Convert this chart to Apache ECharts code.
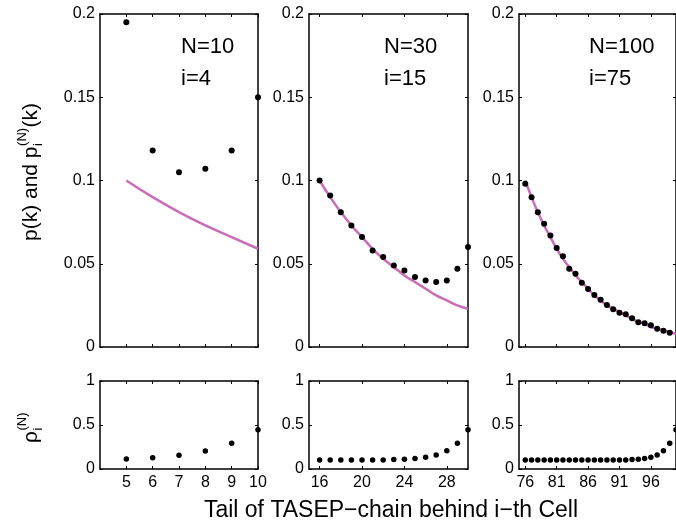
<!DOCTYPE html>
<html>
<head>
<meta charset="utf-8">
<script src="https://cdn.jsdelivr.net/npm/echarts@6/dist/echarts.min.js"></script>
<style>
html,body{margin:0;padding:0;background:#fff;}
#chart{width:676px;height:527px;}
</style>
</head>
<body>
<div id="chart"></div>
<script>
// ---------- data ----------
const panel1K = [5, 6, 7, 8, 9, 10];
const panel1Dots = [0.195, 0.118, 0.105, 0.107, 0.118, 0.150];
const panel1Curve = [0.100, 0.090, 0.081, 0.073, 0.066, 0.059];
const panel1Rho = [0.114, 0.129, 0.155, 0.205, 0.292, 0.447];

const panel2K = [16, 17, 18, 19, 20, 21, 22, 23, 24, 25, 26, 27, 28, 29, 30];
const panel2Dots = [0.100, 0.091, 0.081, 0.073, 0.066, 0.058, 0.054, 0.049, 0.046, 0.042, 0.040, 0.039, 0.040, 0.047, 0.060];
const panel2Curve = [0.100, 0.090, 0.081, 0.073, 0.066, 0.059, 0.053, 0.048, 0.043, 0.039, 0.035, 0.031, 0.028, 0.025, 0.023];
const panel2Rho = [0.103, 0.103, 0.103, 0.103, 0.103, 0.103, 0.103, 0.107, 0.111, 0.118, 0.134, 0.160, 0.206, 0.294, 0.447];

const panel3K = [76, 77, 78, 79, 80, 81, 82, 83, 84, 85, 86, 87, 88, 89, 90, 91, 92, 93, 94, 95, 96, 97, 98, 99, 100];
const panel3Dots = [0.098, 0.090, 0.081, 0.074, 0.067, 0.0595, 0.0545, 0.047, 0.044, 0.0386, 0.0348, 0.0312, 0.0284, 0.0252, 0.0226, 0.0206, 0.0196, 0.0172, 0.0148, 0.0142, 0.013, 0.011, 0.0098, 0.0086, null];
const panel3Curve = [0.100, 0.090, 0.081, 0.073, 0.066, 0.059, 0.053, 0.048, 0.043, 0.039, 0.035, 0.031, 0.028, 0.025, 0.023, 0.021, 0.019, 0.017, 0.015, 0.014, 0.012, 0.011, 0.010, 0.009, 0.008];
const panel3Rho = [0.103, 0.103, 0.103, 0.103, 0.103, 0.103, 0.103, 0.103, 0.103, 0.103, 0.103, 0.103, 0.103, 0.103, 0.103, 0.103, 0.103, 0.107, 0.111, 0.118, 0.134, 0.160, 0.206, 0.294, 0.447];

const panel1Ticks = [5, 6, 7, 8, 9, 10];
const panel2Ticks = [16, 20, 24, 28];
const panel3Ticks = [76, 81, 86, 91, 96];
const panel1Range = [4, 10];
const panel2Range = [15, 30];
const panel3Range = [75, 100];
const topYTicks = [0, 0.05, 0.1, 0.15, 0.2];
const bottomYTicks = [0, 0.5, 1];

const panelN = ['N=10', 'N=30', 'N=100'];
const panelI = ['i=4', 'i=15', 'i=75'];
const xTitle = 'Tail of TASEP\u2212chain behind i\u2212th Cell';

// ---------- layout ----------
const FONT = '"Liberation Sans", Arial, Helvetica, sans-serif';
const CURVE = '#c96db7';
const panelsX = [
  {left: 100, width: 158},
  {left: 309, width: 159},
  {left: 519, width: 159}
];
const topRow = {top: 14, height: 333};
const botRow = {top: 381, height: 88};

const panels = [
  {k: panel1K, dots: panel1Dots, curve: panel1Curve, rho: panel1Rho, ticks: panel1Ticks, range: panel1Range},
  {k: panel2K, dots: panel2Dots, curve: panel2Curve, rho: panel2Rho, ticks: panel2Ticks, range: panel2Range},
  {k: panel3K, dots: panel3Dots, curve: panel3Curve, rho: panel3Rho, ticks: panel3Ticks, range: panel3Range}
];

const grid = [], xAxis = [], yAxis = [], series = [];
const axisLine = {show: true, onZero: false, lineStyle: {color: '#000', width: 1.5}};
const labelStyle = {color: '#000', fontSize: 16, fontFamily: FONT};

function zip(xs, ys) { return xs.map((x, i) => [x, ys[i]]); }

function addGrid(g, p, isTop) {
  const gi = grid.length;
  grid.push(Object.assign({containLabel: false}, g));
  const xb = xAxis.length;
  xAxis.push({
    type: 'value', gridIndex: gi, position: 'bottom', min: p.range[0], max: p.range[1],
    axisLine: axisLine, splitLine: {show: false},
    axisTick: {show: true, inside: true, length: 3, customValues: p.ticks, lineStyle: {color: '#000', width: 1}},
    axisLabel: Object.assign({show: !isTop, margin: 6, customValues: p.ticks}, labelStyle)
  });
  xAxis.push({
    type: 'value', gridIndex: gi, position: 'top', min: p.range[0], max: p.range[1],
    axisLine: axisLine, splitLine: {show: false},
    axisTick: {show: true, inside: true, length: 3, customValues: p.ticks, lineStyle: {color: '#000', width: 1}},
    axisLabel: {show: false}
  });
  const yb = yAxis.length;
  const yt = isTop ? topYTicks : bottomYTicks;
  const ymax = yt[yt.length - 1];
  yAxis.push({
    type: 'value', gridIndex: gi, position: 'left', min: 0, max: ymax,
    axisLine: axisLine, splitLine: {show: false},
    axisTick: {show: true, inside: true, length: 3, customValues: yt, lineStyle: {color: '#000', width: 1}},
    axisLabel: Object.assign({show: true, margin: 5, customValues: yt, formatter: v => String(+v.toFixed(3))}, labelStyle)
  });
  yAxis.push({
    type: 'value', gridIndex: gi, position: 'right', min: 0, max: ymax,
    axisLine: axisLine, splitLine: {show: false},
    axisTick: {show: true, inside: true, length: 3, customValues: yt, lineStyle: {color: '#000', width: 1}},
    axisLabel: {show: false}
  });
  return {xi: xb, yi: yb};
}

panels.forEach((p, i) => {
  const t = addGrid(Object.assign({}, panelsX[i], topRow), p, true);
  series.push({
    type: 'line', xAxisIndex: t.xi, yAxisIndex: t.yi, data: zip(p.k, p.curve),
    smooth: true, showSymbol: false, clip: false, silent: true,
    lineStyle: {color: CURVE, width: 2.5}, z: 2
  });
  series.push({
    type: 'scatter', xAxisIndex: t.xi, yAxisIndex: t.yi,
    data: zip(p.k, p.dots).filter(d => d[1] !== null),
    symbol: 'circle', symbolSize: 6, clip: false, silent: true,
    itemStyle: {color: '#000', opacity: 1}, z: 3
  });
  const b = addGrid(Object.assign({}, panelsX[i], botRow), p, false);
  series.push({
    type: 'scatter', xAxisIndex: b.xi, yAxisIndex: b.yi, data: zip(p.k, p.rho),
    symbol: 'circle', symbolSize: 5.5, clip: false, silent: true,
    itemStyle: {color: '#000', opacity: 1}, z: 3
  });
});

// ---------- text ----------
const mctx = document.createElement('canvas').getContext('2d');
function tw(s, size) { mctx.font = size + 'px ' + FONT; return mctx.measureText(s).width; }

const graphic = [];
const annX = [181, 384, 589];
annX.forEach((x, i) => {
  graphic.push({type: 'text', x: x, y: 47, style: {text: panelN[i], fontSize: 22, fontFamily: FONT, fill: '#000', verticalAlign: 'middle', align: 'left'}});
  graphic.push({type: 'text', x: x, y: 79, style: {text: panelI[i], fontSize: 22, fontFamily: FONT, fill: '#000', verticalAlign: 'middle', align: 'left'}});
});

(function () {
  const main = 'p(k) and p';
  const w1 = tw(main, 21);
  const w2 = Math.max(tw('(N)', 13), tw('i', 13));
  graphic.push({
    type: 'group', x: 31, y: 241, rotation: Math.PI / 2,
    children: [
      {type: 'text', x: 0, y: 0, style: {text: main, fontSize: 21, fontFamily: FONT, fill: '#000', verticalAlign: 'middle', align: 'left'}},
      {type: 'text', x: w1 + 0.5, y: -9, style: {text: '(N)', fontSize: 13, fontFamily: FONT, fill: '#000', verticalAlign: 'middle', align: 'left'}},
      {type: 'text', x: w1 + 0.5, y: 7, style: {text: 'i', fontSize: 13, fontFamily: FONT, fill: '#000', verticalAlign: 'middle', align: 'left'}},
      {type: 'text', x: w1 + w2 + 1, y: 0, style: {text: '(k)', fontSize: 21, fontFamily: FONT, fill: '#000', verticalAlign: 'middle', align: 'left'}}
    ]
  });
  const wr = tw('\u03C1', 21);
  graphic.push({
    type: 'group', x: 31, y: 443, rotation: Math.PI / 2,
    children: [
      {type: 'text', x: 0, y: 0, style: {text: '\u03C1', fontSize: 21, fontFamily: FONT, fill: '#000', verticalAlign: 'middle', align: 'left'}},
      {type: 'text', x: wr + 0.5, y: -9, style: {text: '(N)', fontSize: 13, fontFamily: FONT, fill: '#000', verticalAlign: 'middle', align: 'left'}},
      {type: 'text', x: wr + 0.5, y: 7, style: {text: 'i', fontSize: 13, fontFamily: FONT, fill: '#000', verticalAlign: 'middle', align: 'left'}}
    ]
  });
})();

graphic.push({type: 'text', x: 391, y: 511, style: {text: xTitle, fontSize: 23, fontFamily: FONT, fill: '#000', verticalAlign: 'middle', align: 'center'}});

const chart = echarts.init(document.getElementById('chart'), null, {renderer: 'canvas'});
chart.setOption({
  animation: false,
  backgroundColor: '#fff',
  textStyle: {fontFamily: FONT},
  grid: grid, xAxis: xAxis, yAxis: yAxis, series: series, graphic: graphic
});
</script>
</body>
</html>
